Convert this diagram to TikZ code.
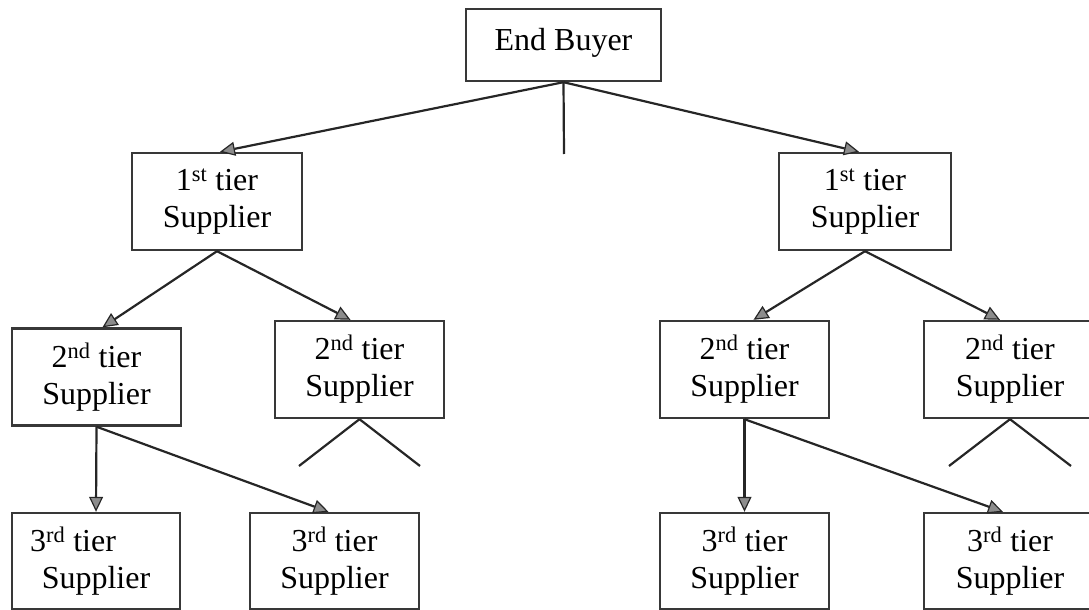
\documentclass[tikz,border=0pt]{standalone}
\usepackage{fontspec}
\setmainfont{Liberation Serif}
\usetikzlibrary{arrows.meta}
\begin{document}
\begin{tikzpicture}[x=1pt,y=-1pt,
  box/.style={draw=black!78, line width=2.4pt, inner sep=0pt, align=center,
    minimum width=169pt, minimum height=97pt,
    font=\fontsize{32}{37}\selectfont},
  arr/.style={draw=black!85, line width=2.2pt,
    -{Triangle[length=15pt,width=14pt,fill=black!45,line width=1.2pt]}},
  ln/.style={draw=black!85, line width=2.2pt}]
\useasboundingbox (0,0) rectangle (1089,610);
\clip (0,0) rectangle (1089,610);
% boxes
\node[box, minimum width=195pt, minimum height=72pt, text depth=12pt] (eb) at (563.5,45) {End Buyer};
\node[box, minimum width=170pt] (s1L) at (217,201.5) {1\textsuperscript{st} tier\\Supplier};
\node[box, minimum width=172pt] (s1R) at (865,201.5) {1\textsuperscript{st} tier\\Supplier};
\node[box] (s2L1) at (96.5,377) {2\textsuperscript{nd} tier\\Supplier};
\node[box] (s2L2) at (359.5,369.5) {2\textsuperscript{nd} tier\\Supplier};
\node[box] (s2R1) at (744.5,369.5) {2\textsuperscript{nd} tier\\Supplier};
\node[box, minimum width=172pt] (s2R2) at (1010,369.5) {2\textsuperscript{nd} tier\\Supplier};
\node[box, minimum width=168pt, minimum height=96pt] (s3L1) at (96,561) {3\textsuperscript{rd} tier\hspace*{46pt}\\Supplier};
\node[box, minimum height=96pt] (s3L2) at (334.5,561) {3\textsuperscript{rd} tier\\Supplier};
\node[box, minimum height=96pt] (s3R1) at (744.5,561) {3\textsuperscript{rd} tier\\Supplier};
\node[box, minimum width=172pt, minimum height=96pt] (s3R2) at (1010,561) {3\textsuperscript{rd} tier\\Supplier};
% free ends
\coordinate (ebend) at (564,154);
\coordinate (a1) at (299,466);
\coordinate (a2) at (420,466);
\coordinate (b1) at (949,466);
\coordinate (b2) at (1071,466);
% connectors
\draw[arr] (eb.south) -- ([xshift=3pt]s1L.north);
\draw[arr] (eb.south) -- ([xshift=-6pt]s1R.north);
\draw[ln] (eb.south) -- (ebend);
\draw[arr] (s1L.south) -- ([xshift=6pt]s2L1.north);
\draw[arr] (s1L.south) -- ([xshift=-9pt]s2L2.north);
\draw[arr] (s1R.south) -- ([xshift=9pt]s2R1.north);
\draw[arr] (s1R.south) -- ([xshift=-10pt]s2R2.north);
\draw[arr] (s2L1.south) -- (s3L1.north);
\draw[arr] (s2L1.south) -- ([xshift=-6pt]s3L2.north);
\draw[arr] (s2R1.south) -- (s3R1.north);
\draw[arr] (s2R1.south) -- ([xshift=-7pt]s3R2.north);
\draw[ln] (s2L2.south) -- (a1);
\draw[ln] (s2L2.south) -- (a2);
\draw[ln] (s2R2.south) -- (b1);
\draw[ln] (s2R2.south) -- (b2);
\end{tikzpicture}
\end{document}
